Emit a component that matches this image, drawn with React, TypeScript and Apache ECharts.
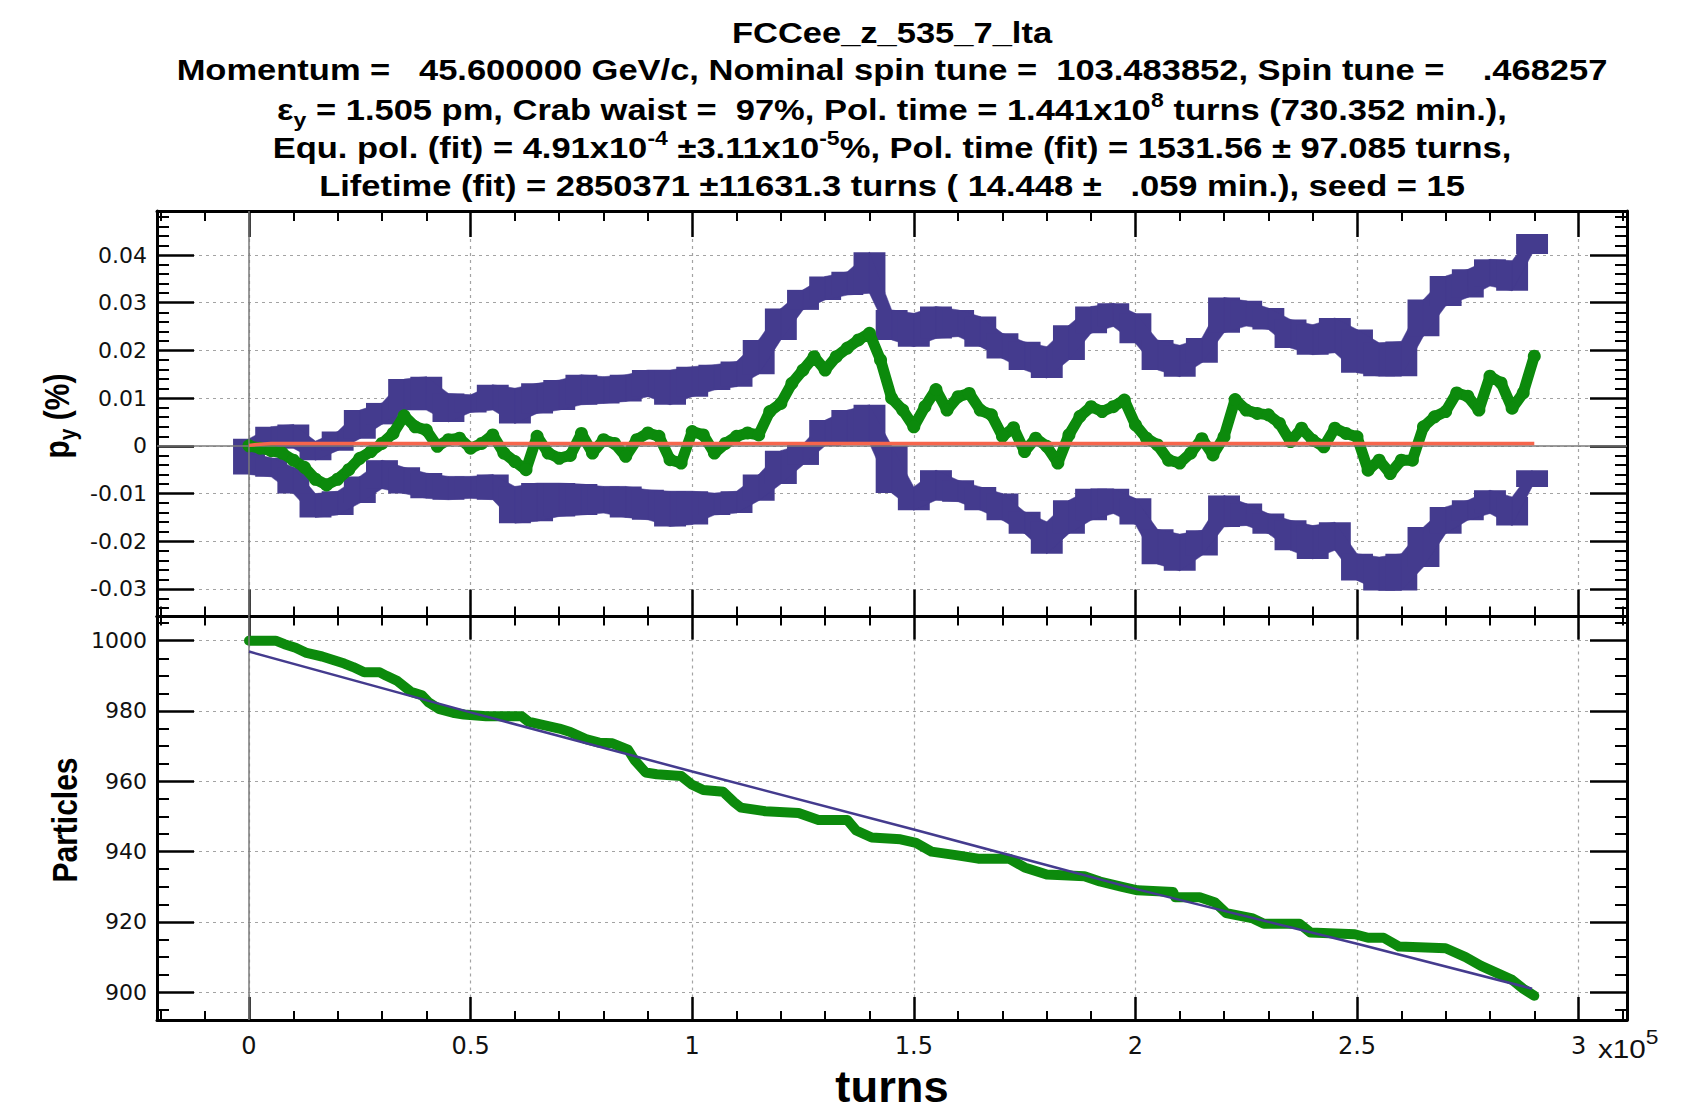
import React, { useEffect, useRef } from 'react';
import * as echarts from 'echarts';

// ---------- text ----------
const TITLE_1 = 'FCCee_z_535_7_lta';
const TITLE_2 = 'Momentum =   45.600000 GeV/c, Nominal spin tune =  103.483852, Spin tune =    .468257';
const TITLE_3 = '{m|\u03b5}{sub|y}{m| = 1.505 pm, Crab waist =  97%, Pol. time = 1.441x10}{sup|8}{m| turns (730.352 min.),}';
const TITLE_4 = '{m|Equ. pol. (fit) = 4.91x10}{sup|-4}{m| \u00b13.11x10}{sup|-5}{m|%, Pol. time (fit) = 1531.56 \u00b1 97.085 turns,}';
const TITLE_5 = 'Lifetime (fit) = 2850371 \u00b111631.3 turns ( 14.448 \u00b1   .059 min.), seed = 15';
const Y_NAME_TOP = '{b|p}{s|y}{b| (%)}';
const Y_NAME_BOTTOM = 'Particles';
const X_NAME = 'turns';
const X_EXP = '{n|x10}{s|5}';

// ---------- axis ranges ----------
const X_MIN = -20760;
const X_MAX = 310920;
const PY_MIN = -0.03579;
const PY_MAX = 0.04923;
const N_MIN = 892.1;
const N_MAX = 1006.85;

// ---------- data: top panel ----------
// mean vertical polarisation p_y (%) vs turns
const PY_MEAN: [number, number][] = [
  [0, 0.0], [2500, -0.0005], [5000, -0.001], [7500, -0.0015], [10000, -0.003],
  [12500, -0.0045], [15000, -0.007], [17500, -0.0082], [20000, -0.007], [22500, -0.005],
  [25000, -0.0026], [27500, -0.0012], [30000, 0.0005], [32500, 0.0026], [35000, 0.0063],
  [37500, 0.004], [40000, 0.0033], [42500, -0.0001], [45000, 0.0013], [47500, 0.0016],
  [50000, -0.0005], [52500, 0.0005], [55000, 0.0023], [57500, -0.0015], [60000, -0.0033],
  [62500, -0.005], [65000, 0.002], [67500, -0.0015], [70000, -0.0026], [72500, -0.002],
  [75000, 0.0026], [77500, -0.0015], [80000, 0.0013], [82500, 0.0005], [85000, -0.0022],
  [87500, 0.0013], [90000, 0.0027], [92500, 0.002], [95000, -0.0029], [97500, -0.0036],
  [100000, 0.003], [102500, 0.0023], [105000, -0.0015], [107500, 0.0005], [110000, 0.002],
  [112500, 0.0027], [115000, 0.0023], [117500, 0.0072], [120000, 0.0089], [122500, 0.0131],
  [125000, 0.0159], [127500, 0.0187], [130000, 0.0159], [132500, 0.0187], [135000, 0.0205],
  [137500, 0.0222], [140000, 0.0236], [142500, 0.018], [145000, 0.01], [147500, 0.0075],
  [150000, 0.004], [152500, 0.0082], [155000, 0.0118], [157500, 0.0075], [160000, 0.0103],
  [162500, 0.011], [165000, 0.0075], [167500, 0.0065], [170000, 0.002], [172500, 0.0038],
  [175000, -0.0012], [177500, 0.0016], [180000, -0.0001], [182500, -0.0036], [185000, 0.0023],
  [187500, 0.0062], [190000, 0.0082], [192500, 0.0072], [195000, 0.0082], [197500, 0.0096],
  [200000, 0.0044], [202500, 0.0016], [205000, 0.0002], [207500, -0.003], [210000, -0.0036],
  [212500, -0.0015], [215000, 0.0015], [217500, -0.0019], [220000, 0.0019], [222500, 0.0097],
  [225000, 0.0075], [227500, 0.0068], [230000, 0.0065], [232500, 0.0047], [235000, 0.0009],
  [237500, 0.0037], [240000, 0.0012], [242500, -0.0002], [245000, 0.0037], [247500, 0.0026],
  [250000, 0.0019], [252500, -0.0051], [255000, -0.003], [257500, -0.0058], [260000, -0.003],
  [262500, -0.003], [265000, 0.004], [267500, 0.0061], [270000, 0.0072], [272500, 0.0111],
  [275000, 0.0104], [277500, 0.0075], [280000, 0.0146], [282500, 0.0132], [285000, 0.0079],
  [287500, 0.0111], [290000, 0.0188],
];

// upper error band: [turns, low edge, high edge]
const PY_UPPER: [number, number, number][] = [
  [0, -0.0015, 0.0015], [5000, -0.0005, 0.004], [10000, -0.0005, 0.0045], [15000, -0.003, 0.001],
  [20000, -0.001, 0.003], [25000, 0.0015, 0.0075], [30000, 0.0045, 0.009], [35000, 0.0075, 0.014],
  [40000, 0.0075, 0.0145], [45000, 0.005, 0.011], [50000, 0.007, 0.0107], [55000, 0.0075, 0.0128],
  [60000, 0.0047, 0.0121], [65000, 0.0068, 0.0131], [70000, 0.0075, 0.0138], [75000, 0.0086, 0.0149],
  [80000, 0.0089, 0.0145], [85000, 0.0093, 0.0149], [90000, 0.0103, 0.0159], [95000, 0.0086, 0.0159],
  [100000, 0.0103, 0.0166], [105000, 0.0117, 0.017], [110000, 0.0124, 0.0177], [115000, 0.015, 0.0222],
  [120000, 0.0222, 0.0288], [125000, 0.0285, 0.0327], [130000, 0.0306, 0.0355], [135000, 0.0316, 0.0365],
  [140000, 0.032, 0.0406], [145000, 0.0222, 0.0285], [150000, 0.0208, 0.0278], [155000, 0.0225, 0.0292],
  [160000, 0.0229, 0.0285], [165000, 0.0208, 0.0271], [170000, 0.0183, 0.0236], [175000, 0.0159, 0.0218],
  [180000, 0.0142, 0.0208], [185000, 0.018, 0.0253], [190000, 0.0236, 0.0292], [195000, 0.025, 0.0299],
  [200000, 0.0215, 0.0278], [205000, 0.0159, 0.0222], [210000, 0.0145, 0.0211], [215000, 0.0174, 0.0226],
  [220000, 0.0237, 0.0311], [225000, 0.0251, 0.0304], [230000, 0.0244, 0.0289], [235000, 0.0205, 0.0265],
  [240000, 0.0191, 0.0254], [245000, 0.0195, 0.0268], [250000, 0.0153, 0.0244], [255000, 0.0146, 0.0216],
  [260000, 0.0146, 0.0219], [265000, 0.023, 0.0307], [270000, 0.0293, 0.0356], [275000, 0.0311, 0.037],
  [280000, 0.0335, 0.0391], [285000, 0.0325, 0.0388], [289500, 0.0402, 0.0444],
];

// lower error band: [turns, low edge, high edge]
const PY_LOWER: [number, number, number][] = [
  [0, -0.006, -0.0015], [5000, -0.0065, -0.0025], [10000, -0.01, -0.0045], [15000, -0.015, -0.01],
  [20000, -0.0145, -0.0095], [25000, -0.012, -0.0064], [30000, -0.009, -0.003], [35000, -0.01, -0.0045],
  [40000, -0.011, -0.0057], [45000, -0.0113, -0.0064], [50000, -0.011, -0.0064], [55000, -0.0113, -0.006],
  [60000, -0.0162, -0.0085], [65000, -0.0158, -0.0078], [70000, -0.0148, -0.0078], [75000, -0.0145, -0.008],
  [80000, -0.0141, -0.0085], [85000, -0.015, -0.0085], [90000, -0.0155, -0.0092], [95000, -0.0169, -0.0095],
  [100000, -0.0165, -0.0095], [105000, -0.0145, -0.0099], [110000, -0.0141, -0.0095], [115000, -0.0115, -0.006],
  [120000, -0.008, -0.001], [125000, -0.004, 0.0004], [130000, 0.0, 0.0054], [135000, 0.0005, 0.0075],
  [140000, 0.0005, 0.0086], [145000, -0.0099, 0.0], [150000, -0.0135, -0.0086], [155000, -0.0114, -0.0051],
  [160000, -0.0117, -0.0072], [165000, -0.0135, -0.0086], [170000, -0.0156, -0.01], [175000, -0.0184, -0.0138],
  [180000, -0.0226, -0.0159], [185000, -0.0184, -0.0114], [190000, -0.0156, -0.009], [195000, -0.0142, -0.009],
  [200000, -0.0165, -0.011], [205000, -0.0248, -0.0175], [210000, -0.0262, -0.0185], [215000, -0.023, -0.0177],
  [220000, -0.017, -0.0104], [225000, -0.0167, -0.0121], [230000, -0.0184, -0.0142], [235000, -0.0219, -0.0156],
  [240000, -0.0237, -0.0167], [245000, -0.0219, -0.016], [250000, -0.0282, -0.0226], [255000, -0.0303, -0.0233],
  [260000, -0.0303, -0.0226], [265000, -0.0254, -0.017], [270000, -0.0184, -0.0128], [275000, -0.0156, -0.0114],
  [280000, -0.0142, -0.0093], [285000, -0.0167, -0.0107], [289500, -0.0086, -0.0051],
];

// polarisation build-up fit
const PY_FIT: [number, number][] = [
  [0, 0.0001], [2500, 0.00035], [5000, 0.00049], [290000, 0.00049],
];

// ---------- data: bottom panel ----------
const PARTICLES: [number, number][] = [
  [0, 1000], [6000, 1000], [8000, 999], [10500, 998], [13000, 996.5], [16500, 995.5],
  [19000, 994.5], [21500, 993.5], [23500, 992.5], [26000, 991], [29500, 991], [31000, 990],
  [33500, 988.5], [36500, 985.5], [39000, 984.5], [40500, 982.5], [43000, 980.5], [46000, 979.5],
  [48500, 979], [53500, 978.5], [61500, 978.5], [63000, 977], [66500, 976], [70000, 975],
  [72500, 974], [76000, 972], [79000, 971], [82000, 970.8], [85500, 969], [87000, 966],
  [89500, 962.5], [92000, 962], [97500, 961.5], [100000, 959], [102500, 957.5], [107000, 957],
  [109500, 954], [111000, 952.5], [116500, 951.5], [124000, 951], [128500, 949], [135000, 949],
  [137000, 946], [140500, 944], [147000, 943.5], [150500, 942.5], [154000, 940], [159500, 939],
  [164500, 938], [171500, 938], [175000, 935.5], [180000, 933.5], [188500, 933], [192000, 931.5],
  [197000, 930], [200500, 929], [208500, 928.5], [209000, 927], [214500, 927], [218000, 925.5],
  [220500, 922.5], [226500, 921], [229000, 919.5], [237000, 919.5], [239500, 917], [249500, 916.5],
  [252500, 915.5], [256000, 915.5], [259500, 913], [270000, 912.5], [274500, 910], [278000, 907.5],
  [281500, 905.5], [285000, 903.5], [287500, 901], [290000, 899],
];

const PARTICLES_FIT: [number, number][] = [
  [0, 996.9], [50000, 979.6], [100000, 962.8], [150000, 946.3], [200000, 929.4],
  [250000, 913.8], [289500, 901.0],
];

// ---------- styles ----------
const BLUE = '#443b8e';
const GREEN = '#0c8a0c';
const RED = '#f6654c';
const GRID_GREY = '#a3a3a3';
const ZERO_GREY = '#7a7a7a';
const LABEL_FONT = 'DejaVu Sans';
const TEXT_FONT = 'Liberation Sans';
const DASH_HALF = 3600; // half length of error-band dashes, in turns

function xAxis(gridIndex: number, position: string, tickLen: number, minorLen: number, showLabel: boolean, showSplit: boolean) {
  return {
    type: 'value', gridIndex, position, min: X_MIN, max: X_MAX,
    minInterval: 50000, maxInterval: 50000, splitNumber: 6,
    axisLine: { show: true, onZero: false, lineStyle: { color: '#000', width: 3 } },
    axisTick: { show: true, inside: true, length: tickLen, lineStyle: { color: '#000', width: 2.5 } },
    minorTick: { show: true, splitNumber: 5, length: minorLen, lineStyle: { color: '#000', width: 2 } },
    splitLine: { show: showSplit, lineStyle: { color: GRID_GREY, width: 1.2, type: [3, 4] } },
    axisLabel: {
      show: showLabel, showMinLabel: false, showMaxLabel: false, margin: 14,
      fontFamily: LABEL_FONT, fontSize: 24, color: '#111',
      formatter: (v: number) => String(Math.round(v / 1e4) / 10),
    },
  };
}

function yAxis(gridIndex: number, position: string, min: number, max: number, interval: number, minorSplit: number, showLabel: boolean, fmt: (v: number) => string) {
  return {
    type: 'value', gridIndex, position, min, max,
    minInterval: interval, maxInterval: interval, splitNumber: 8,
    axisLine: { show: true, onZero: false, lineStyle: { color: '#000', width: 3 } },
    axisTick: { show: true, inside: true, length: 37, lineStyle: { color: '#000', width: 2.5 } },
    minorTick: { show: true, splitNumber: minorSplit, length: 12, lineStyle: { color: '#000', width: 2 } },
    splitLine: { show: showLabel, lineStyle: { color: GRID_GREY, width: 1.2, type: [3, 4] } },
    axisLabel: {
      show: showLabel, showMinLabel: false, showMaxLabel: false, margin: 10,
      fontFamily: LABEL_FONT, fontSize: 22, color: '#111', formatter: fmt,
    },
  };
}

const pyFmt = (v: number) => (Math.abs(v) < 1e-9 ? '0' : v.toFixed(2));
const nFmt = (v: number) => String(Math.round(v));

// error band: ribbon joining consecutive samples plus a dash (rect) at each sample
function bandSeries(name: string, data: [number, number, number][]) {
  return {
    name, type: 'custom', xAxisIndex: 0, yAxisIndex: 0, z: 3, clip: true,
    encode: { x: 0, y: [1, 2] },
    data,
    renderItem: (params: any, api: any) => {
      const i = params.dataIndex;
      const t = api.value(0);
      const lo = api.value(1);
      const hi = api.value(2);
      const p1 = api.coord([t - DASH_HALF, hi]);
      const p2 = api.coord([t + DASH_HALF, lo]);
      const children: any[] = [
        {
          type: 'rect',
          shape: { x: p1[0], y: p1[1], width: p2[0] - p1[0], height: p2[1] - p1[1] },
          style: { fill: BLUE },
        },
      ];
      if (i < data.length - 1) {
        const n = data[i + 1];
        const a = api.coord([t, hi]);
        const b = api.coord([n[0], n[2]]);
        const c = api.coord([n[0], n[1]]);
        const d = api.coord([t, lo]);
        children.push({
          type: 'polygon',
          shape: { points: [a, b, c, d] },
          style: { fill: BLUE, stroke: BLUE, lineWidth: 0.5 },
        });
      }
      return { type: 'group', children };
    },
  };
}

const TS = 1.15; // horizontal stretch of the title text
const titleRich = {
  m: { fontFamily: TEXT_FONT, fontWeight: 'bold', fontSize: 30, lineHeight: 40, fill: '#000', color: '#000' },
  sup: { fontFamily: TEXT_FONT, fontWeight: 'bold', fontSize: 20, lineHeight: 21, verticalAlign: 'top', fill: '#000', color: '#000' },
  sub: { fontFamily: TEXT_FONT, fontWeight: 'bold', fontSize: 20, lineHeight: 18, verticalAlign: 'bottom', fill: '#000', color: '#000' },
};

function titleText(text: string, y: number, rich?: any) {
  return {
    type: 'text', x: 892, y, scaleX: TS, z: 10,
    style: {
      text, rich, fill: '#000',
      font: `bold 30px "${TEXT_FONT}"`,
      textAlign: 'center', textVerticalAlign: 'middle', align: 'center', verticalAlign: 'middle',
    },
  };
}

export default function App() {
  const ref = useRef<HTMLDivElement>(null);
  useEffect(() => {
    if (!ref.current) return;
    const chart = echarts.init(ref.current, null, { renderer: 'svg' });
    const option: any = {
      animation: false,
      backgroundColor: '#fff',
      grid: [
        { left: 157, top: 211, width: 1470, height: 405.6, containLabel: false },
        { left: 157, top: 616.6, width: 1470, height: 403.4, containLabel: false },
      ],
      xAxis: [
        xAxis(0, 'bottom', 27, 10, false, true),
        xAxis(0, 'top', 26, 10, false, false),
        xAxis(1, 'bottom', 23, 9, true, true),
        xAxis(1, 'top', 23, 9, false, false),
      ],
      yAxis: [
        yAxis(0, 'left', PY_MIN, PY_MAX, 0.01, 5, true, pyFmt),
        yAxis(0, 'right', PY_MIN, PY_MAX, 0.01, 5, false, pyFmt),
        yAxis(1, 'left', N_MIN, N_MAX, 20, 4, true, nFmt),
        yAxis(1, 'right', N_MIN, N_MAX, 20, 4, false, nFmt),
      ],
      series: [
        {
          type: 'line', xAxisIndex: 0, yAxisIndex: 0, data: [], z: 1, silent: true,
          markLine: {
            silent: true, symbol: ['none', 'none'], label: { show: false },
            lineStyle: { color: ZERO_GREY, width: 1.5, type: 'solid' },
            data: [{ yAxis: 0 }, { xAxis: 0 }],
          },
        },
        {
          type: 'line', xAxisIndex: 2, yAxisIndex: 2, data: [], z: 1, silent: true,
          markLine: {
            silent: true, symbol: ['none', 'none'], label: { show: false },
            lineStyle: { color: ZERO_GREY, width: 1.5, type: 'solid' },
            data: [{ xAxis: 0 }],
          },
        },
        bandSeries('upper', PY_UPPER),
        bandSeries('lower', PY_LOWER),
        {
          type: 'line', xAxisIndex: 0, yAxisIndex: 0, data: PY_MEAN, z: 4,
          symbol: 'circle', symbolSize: 13, showSymbol: true, showAllSymbol: true,
          itemStyle: { color: GREEN, borderWidth: 0 },
          lineStyle: { color: GREEN, width: 11, cap: 'round', join: 'round' },
        },
        {
          type: 'line', xAxisIndex: 0, yAxisIndex: 0, data: PY_FIT, z: 5,
          symbol: 'none', lineStyle: { color: RED, width: 3.5 },
        },
        {
          type: 'line', xAxisIndex: 2, yAxisIndex: 2, data: PARTICLES, z: 4,
          symbol: 'none', lineStyle: { color: GREEN, width: 10, cap: 'round', join: 'round' },
        },
        {
          type: 'line', xAxisIndex: 2, yAxisIndex: 2, data: PARTICLES_FIT, z: 5,
          symbol: 'none', lineStyle: { color: BLUE, width: 2.5 },
        },
      ],
      graphic: [
        titleText(TITLE_1, 33),
        titleText(TITLE_2, 70),
        titleText(TITLE_3, 110, titleRich),
        titleText(TITLE_4, 148, titleRich),
        titleText(TITLE_5, 186),
        {
          type: 'text', x: 57, y: 416, rotation: Math.PI / 2, scaleY: 1.14, z: 10,
          style: {
            text: Y_NAME_TOP, textAlign: 'center', textVerticalAlign: 'middle', align: 'center', verticalAlign: 'middle',
            rich: {
              b: { fontFamily: TEXT_FONT, fontWeight: 'bold', fontSize: 30, lineHeight: 40, fill: '#000', color: '#000' },
              s: { fontFamily: TEXT_FONT, fontWeight: 'bold', fontSize: 21, lineHeight: 16, verticalAlign: 'bottom', fill: '#000', color: '#000' },
            },
          },
        },
        {
          type: 'text', x: 65, y: 820, rotation: Math.PI / 2, scaleY: 1.14, z: 10,
          style: {
            text: Y_NAME_BOTTOM, fill: '#000', font: `bold 30px "${TEXT_FONT}"`,
            textAlign: 'center', textVerticalAlign: 'middle', align: 'center', verticalAlign: 'middle',
          },
        },
        {
          type: 'text', x: 892, y: 1087, z: 10, scaleX: 1.03,
          style: {
            text: X_NAME, fill: '#000', font: `bold 44px "${TEXT_FONT}"`,
            textAlign: 'center', textVerticalAlign: 'middle', align: 'center', verticalAlign: 'middle',
          },
        },
        {
          type: 'text', x: 1598, y: 1049, z: 10, scaleX: 1.14,
          style: {
            text: X_EXP, textAlign: 'left', textVerticalAlign: 'middle', align: 'left', verticalAlign: 'middle',
            rich: {
              n: { fontFamily: TEXT_FONT, fontSize: 26, lineHeight: 44, fill: '#111', color: '#111' },
              s: { fontFamily: TEXT_FONT, fontSize: 20, lineHeight: 8, verticalAlign: 'top', fill: '#111', color: '#111' },
            },
          },
        },
      ],
    };
    chart.setOption(option);
    return () => chart.dispose();
  }, []);
  return (
    <div
      ref={ref}
      style={{ position: 'fixed', left: 0, top: 0, width: 1705, height: 1110, background: '#fff' }}
    />
  );
}
